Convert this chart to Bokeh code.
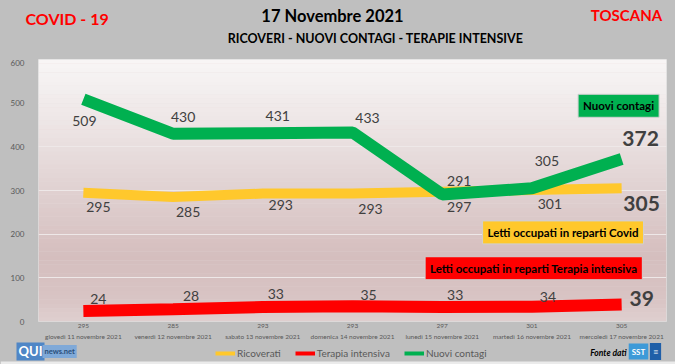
from bokeh.plotting import figure
from bokeh.layouts import column
from bokeh.models import (Range1d, FactorRange, Label, Legend, LegendItem,
                          BoxAnnotation, ColumnDataSource, FixedTicker)
from bokeh.core.properties import value
from bokeh.embed import file_html
from bokeh.resources import INLINE

# ---------------- data ----------------
days = ["giovedì 11 novembre 2021", "venerdì 12 novembre 2021",
        "sabato 13 novembre 2021", "domenica 14 novembre 2021",
        "lunedì 15 novembre 2021", "martedì 16 novembre 2021",
        "mercoledì 17 novembre 2021"]
ricoverati = [295, 285, 293, 293, 297, 301, 305]
terapia = [24, 28, 33, 35, 33, 34, 39]
contagi = [509, 430, 431, 433, 291, 305, 372]
y_ticks = [0, 100, 200, 300, 400, 500, 600]
series_names = ["Ricoverati", "Terapia intensiva", "Nuovi contagi"]

# category factors: (date, ricoverati value shown above the date)
factors = [(d, str(v)) for d, v in zip(days, ricoverati)]

# ---------------- styles ----------------
FONT = "Lato"
GREEN = "#00b050"
YELLOW = "#ffc82c"
RED = "#ff0000"
GRAY_BG = "#bfbfbf"
LABEL_COL = "#404040"
W = 675

# label offsets (screen px, y down)
c_dx = [1, 10, 15, 15, 17, 15, 19]
c_dy = [22, -17, -17, -14, -13, -27, -21]
r_dx = [15, 15, 18, 18, 17, 18, 20]
r_dy = [14, 15, 11, 15, 15, 14, 15]
t_dx = [15, 18, 13, 16, 13, 16, 20]
t_dy = [-12, -13, -13, -11, -12, -10, -6]


def blank(h):
    f = figure(width=W, height=h, x_range=Range1d(0, W), y_range=Range1d(h, 0),
               output_backend="svg", toolbar_location=None,
               x_axis_location=None, y_axis_location=None,
               min_border=0, min_border_left=0, min_border_right=0,
               min_border_top=0, min_border_bottom=0)
    f.grid.visible = False
    f.outline_line_color = None
    f.background_fill_color = GRAY_BG
    f.border_fill_color = GRAY_BG
    f.frame_align = False
    return f


def lab(f, x, y, s, size, color, style="bold", align="center", **kw):
    f.add_layout(Label(x=x, y=y, text=s, text_align=align, text_baseline="middle",
                       text_font=FONT, text_font_size=size, text_font_style=style,
                       text_color=color, **kw))


# ---------------- header ----------------
top = blank(59)
lab(top, 25, 18, "COVID - 19", "16px", RED, align="left")
lab(top, 332, 15, "17 Novembre 2021", "16.5px", "black")
lab(top, 375, 38, "RICOVERI - NUOVI CONTAGI - TERAPIE INTENSIVE", "12.5px", "black")
lab(top, 626, 14, "TOSCANA", "15px", RED)

# ---------------- main chart ----------------
p = figure(width=W, height=283,
           x_range=FactorRange(*factors, group_padding=0, factor_padding=0, range_padding=0),
           y_range=Range1d(0, 600), output_backend="svg",
           toolbar_location=None,
           min_border_left=38, min_border_right=9,
           min_border_top=0, min_border_bottom=20)
p.frame_align = False
p.background_fill_color = "#e6dada"
p.border_fill_color = GRAY_BG
p.outline_line_color = "#dcdcdc"

stops = [(0, (223, 207, 207)), (50, (216, 196, 196)), (150, (213, 190, 190)),
         (300, (224, 209, 209)), (450, (237, 229, 229)), (600, (248, 246, 246))]


def col_at(v):
    for (a, ca), (b, cb) in zip(stops[:-1], stops[1:]):
        if a <= v <= b:
            t = (v - a) / (b - a)
            c = [int(round(ca[i] + (cb[i] - ca[i]) * t)) for i in range(3)]
            return "#%02x%02x%02x" % tuple(c)
    return "#f8f6f6"


for k in range(60):
    lo = k * 10
    p.add_layout(BoxAnnotation(bottom=lo, top=lo + 10.5, fill_color=col_at(lo + 5),
                               fill_alpha=1, line_alpha=0, level="image"))

p.yaxis.ticker = FixedTicker(ticks=y_ticks)
p.yaxis.axis_line_color = None
p.yaxis.major_tick_line_color = None
p.yaxis.minor_tick_line_color = None
p.yaxis.major_label_text_font = FONT
p.yaxis.major_label_text_font_size = "8px"
p.yaxis.major_label_text_color = "#595959"
p.yaxis.major_label_standoff = 8

xa = p.xaxis[0]
xa.axis_line_color = None
xa.major_tick_line_color = None
xa.minor_tick_line_color = None
xa.major_tick_out = 0
xa.major_tick_in = 0
xa.separator_line_color = None
xa.major_label_text_font = FONT
xa.major_label_text_font_size = "6.5px"
xa.major_label_text_color = "#595959"
xa.major_label_standoff = 2
xa.group_text_font = FONT
xa.group_text_font_size = "6.5px"
xa.group_text_font_style = "normal"
xa.group_text_color = "#595959"

p.grid.grid_line_color = None
p.ygrid.grid_line_color = "#eee8e8"

src = ColumnDataSource(dict(day=factors, ric=ricoverati, ter=terapia, con=contagi))
p.line("day", "ric", source=src, color=YELLOW, line_width=10)
p.line("day", "ter", source=src, color=RED, line_width=12)
p.line("day", "con", source=src, color=GREEN, line_width=12)

for vals, dx, dy in ((contagi, c_dx, c_dy), (ricoverati, r_dx, r_dy), (terapia, t_dx, t_dy)):
    sub = ColumnDataSource(dict(day=factors[:-1], v=vals[:-1], t=[str(v) for v in vals[:-1]],
                                dx=dx[:-1], dy=dy[:-1]))
    p.text("day", "v", text="t", source=sub, x_offset="dx", y_offset="dy",
           text_align="center", text_baseline="middle", text_font=value(FONT),
           text_font_size="14px", text_color=LABEL_COL)
    last = ColumnDataSource(dict(day=factors[-1:], v=vals[-1:], t=[str(v) for v in vals[-1:]],
                                 dx=dx[-1:], dy=dy[-1:]))
    p.text("day", "v", text="t", source=last, x_offset="dx", y_offset="dy",
           text_align="center", text_baseline="middle", text_font=value(FONT),
           text_font_size="21px", text_font_style="bold", text_color=LABEL_COL)


def tag(x, y, txt, bg):
    p.add_layout(Label(x=x, y=y, text=txt, text_align="center", text_baseline="middle",
                       text_font=FONT, text_font_size="11.5px", text_font_style="bold",
                       text_color="black", background_fill_color=bg,
                       border_line_color="#d0d0d0", padding=5))


tag(6.466, 494, "Nuovi contagi", GREEN)
tag(5.847, 204, "Letti occupati in reparti Covid", YELLOW)
tag(5.52, 122, "Letti occupati in reparti Terapia intensiva", RED)

# ---------------- footer ----------------
bot = blank(22)
bot.add_layout(BoxAnnotation(top=19, bottom=22, fill_color="#ebebeb", fill_alpha=1,
                             line_alpha=0, level="image"))
ly = bot.line(x=[-50, -40], y=[-50, -50], color=YELLOW, line_width=4)
lr = bot.line(x=[-50, -40], y=[-50, -50], color=RED, line_width=4)
lg = bot.line(x=[-50, -40], y=[-50, -50], color=GREEN, line_width=4)
legend = Legend(items=[LegendItem(label=series_names[0], renderers=[ly]),
                       LegendItem(label=series_names[1], renderers=[lr]),
                       LegendItem(label=series_names[2], renderers=[lg])],
                orientation="horizontal", location=(215, 5),
                background_fill_alpha=0, border_line_alpha=0,
                label_text_font=FONT, label_text_font_size="10px",
                label_text_color="#595959", glyph_width=20, glyph_height=10,
                label_standoff=2, spacing=14, padding=0, margin=0,
                label_height=12)
bot.add_layout(legend)
lab(bot, 626, 10, "Fonte dati", "8.5px", "black", style="bold italic", align="right")
lab(bot, 16, 8, "QUI", "13px", "white", align="left",
    background_fill_color="#4f86c6", padding=2)
lab(bot, 42, 9, "news.net", "7.5px", "#2b4f7a", align="left",
    background_fill_color="#7fa9d8", padding=2)
lab(bot, 638, 9, "SST", "8px", "white", background_fill_color="#3d9ad8", padding=3)
lab(bot, 655, 9, "≡", "9px", "white", style="normal",
    background_fill_color="#1f5fa8", padding=3)

layout = column(top, p, bot, spacing=0)
html = file_html(layout, INLINE)
html = html.replace("</head>", "<style>body{background:#bfbfbf;}</style></head>", 1)
open("out.html", "w").write(html)
